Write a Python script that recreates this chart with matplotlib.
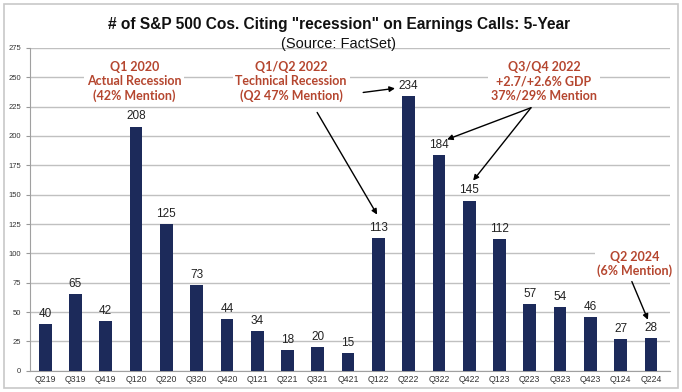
import matplotlib
matplotlib.use("Agg")
import matplotlib.pyplot as plt
from matplotlib.patches import Rectangle

quarters = ["Q219", "Q319", "Q419", "Q120", "Q220", "Q320", "Q420", "Q121", "Q221",
            "Q321", "Q421", "Q122", "Q222", "Q322", "Q422", "Q123", "Q223", "Q323",
            "Q423", "Q124", "Q224"]
counts = [40, 65, 42, 208, 125, 73, 44, 34, 18, 20, 15, 113, 234, 184, 145, 112,
          57, 54, 46, 27, 28]
yticks = list(range(0, 276, 25))

title = '# of S&P 500 Cos. Citing "recession" on Earnings Calls: 5-Year'
subtitle = "(Source: FactSet)"

notes = [
    ("Q1 2020\nActual Recession\n(42% Mention)", 2.94, 246.5),
    ("Q1/Q2 2022\nTechnical Recession\n(Q2 47% Mention)", 8.12, 246.5),
    ("Q3/Q4 2022\n+2.7/+2.6% GDP\n37%/29% Mention", 16.47, 246.5),
    ("Q2 2024\n(6% Mention)", 19.47, 91),
]
arrows = [  # (tail x, tail y, head x, head y)
    (10.5, 237, 11.55, 240.5),
    (8.98, 220, 10.96, 133),
    (16.04, 224, 13.27, 197),
    (16.04, 224, 14.13, 162),
    (19.37, 76, 19.9, 43.5),
]

bar_color = "#1c2a5a"
note_color = "#b5462f"

fig = plt.figure(figsize=(6.82, 3.92), dpi=100)
fig.patches.append(Rectangle((0.006, 0.01), 0.988, 0.98, transform=fig.transFigure,
                             fill=False, edgecolor="#c8c8c8", linewidth=1.2))
ax = fig.add_axes([0.044, 0.054, 0.938, 0.824])

x = list(range(len(quarters)))
ax.bar(x, counts, width=0.42, color=bar_color, zorder=3)
for xi, v in zip(x, counts):
    ax.annotate(str(v), (xi, v), xytext=(0, 3), textcoords="offset points",
                ha="center", va="bottom", fontsize=8.5, color="#222222",
                family="Liberation Sans", zorder=4)

ax.set_xlim(-0.5, 20.62)
ax.set_ylim(0, 275)
ax.set_yticks(yticks)
ax.set_xticks(x)
ax.set_xticklabels(quarters, fontsize=6.3, family="Liberation Sans", color="#333333")
ax.tick_params(axis="y", labelsize=5.5, colors="#333333", length=3, color="#999999")
ax.tick_params(axis="x", length=0, pad=3)
for lab in ax.get_yticklabels():
    lab.set_family("Liberation Sans")
ax.yaxis.grid(True, color="#c0c0c0", linewidth=1, zorder=0)
for s in ["top", "right"]:
    ax.spines[s].set_visible(False)
ax.spines["left"].set_color("#a0a0a0")
ax.spines["bottom"].set_color("#a0a0a0")

for txt, tx, ty in notes:
    ax.text(tx, ty, txt, ha="center", va="center", fontsize=9, fontweight="bold",
            color=note_color, family="Lato", linespacing=1.2, zorder=5,
            bbox=dict(facecolor="white", edgecolor="none", pad=2))

for x0, y0, x1, y1 in arrows:
    ax.annotate("", xy=(x1, y1), xytext=(x0, y0),
                arrowprops=dict(arrowstyle="-|>", color="black", lw=1,
                                mutation_scale=8, shrinkA=0, shrinkB=0), zorder=6)

fig.text(0.497, 0.938, title, ha="center", va="center", fontsize=11.2,
         fontweight="bold", family="Liberation Sans", color="#111111")
fig.text(0.497, 0.888, subtitle, ha="center", va="center", fontsize=10.5,
         family="Liberation Sans", color="#111111")

fig.savefig("out.png", dpi=100)
